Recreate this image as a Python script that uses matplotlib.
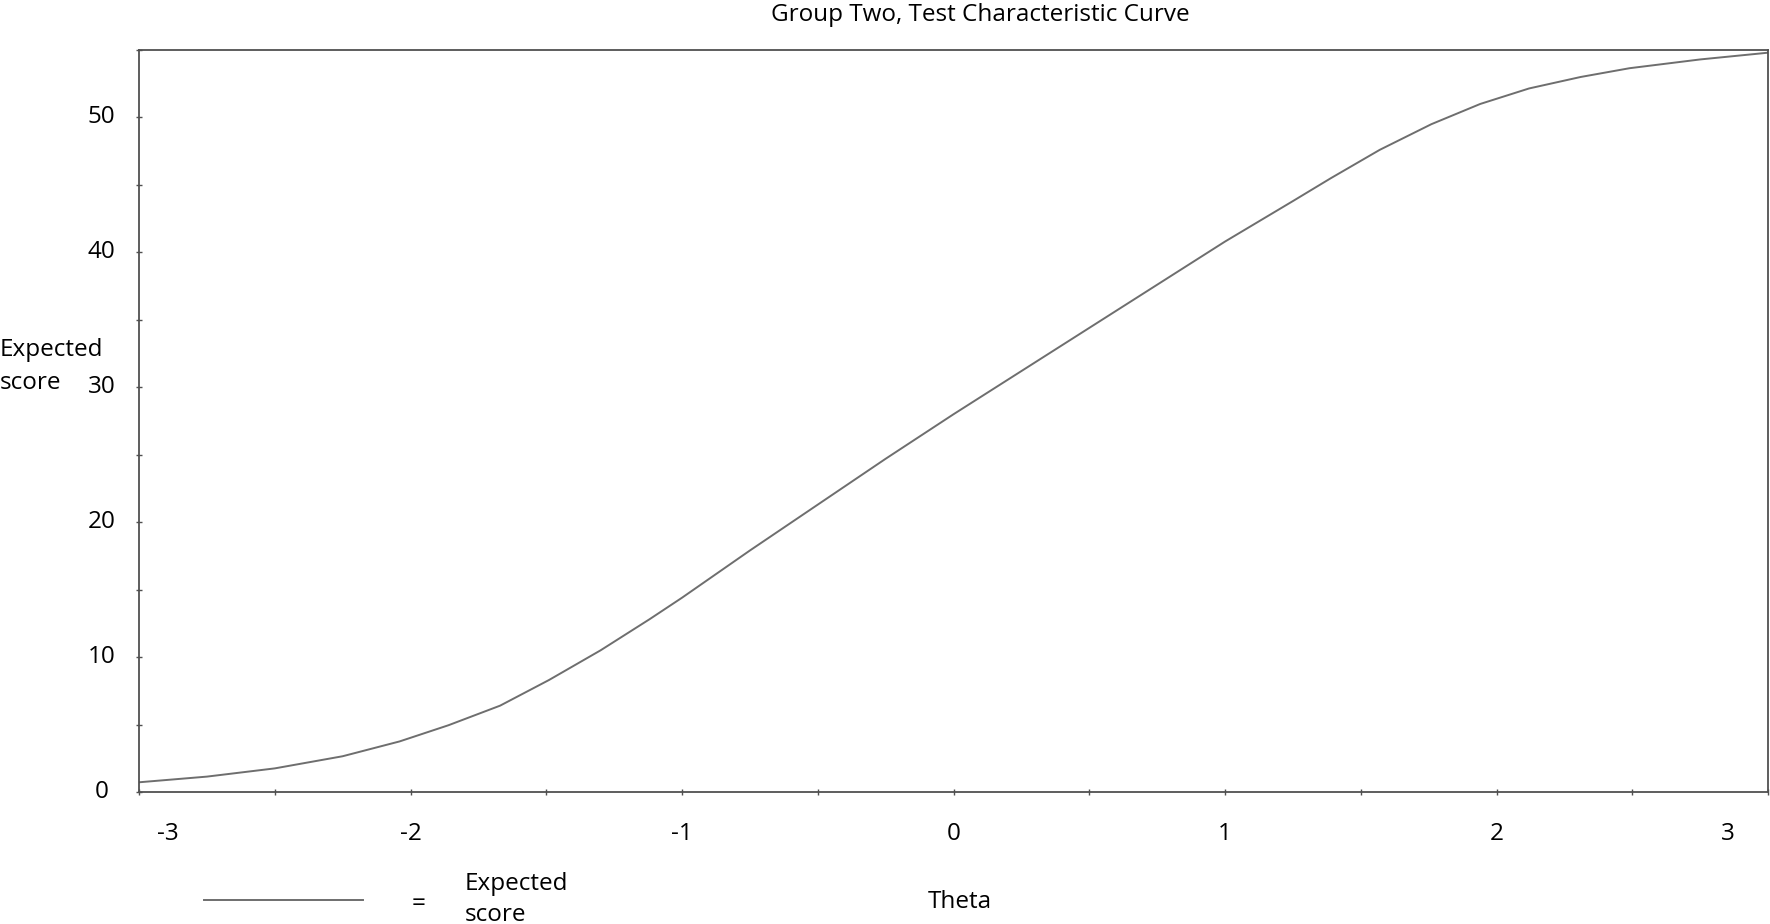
import numpy as np
import matplotlib
matplotlib.use('Agg')
import matplotlib.pyplot as plt
from matplotlib.lines import Line2D
from matplotlib.transforms import ScaledTranslation

# test characteristic curve
theta = [-3.0, -2.75, -2.5, -2.25, -2.04, -1.86, -1.67, -1.49, -1.30, -1.12, -1.0,
         -0.75, -0.5, -0.25, 0.0, 0.25, 0.5, 0.75, 1.0, 1.25, 1.39, 1.57, 1.76,
         1.94, 2.12, 2.31, 2.49, 2.75, 3.0]
expected = [0.72, 1.14, 1.75, 2.65, 3.75, 4.95, 6.4, 8.3, 10.5, 12.8, 14.4,
            17.9, 21.3, 24.7, 28.0, 31.2, 34.4, 37.6, 40.8, 43.8, 45.5, 47.6, 49.5,
            51.0, 52.15, 53.0, 53.65, 54.3, 54.8]

xticks = [-3, -2.5, -2, -1.5, -1, -0.5, 0, 0.5, 1, 1.5, 2, 2.5, 3]
xlabels = ['-3', '', '-2', '', '-1', '', '0', '', '1', '', '2', '', '3']
yticks = [0, 5, 10, 15, 20, 25, 30, 35, 40, 45, 50, 55]
ylabels = ['0', '', '10', '', '20', '', '30', '', '40', '', '50', '']

title = 'Group Two, Test Characteristic Curve'
ylab = ['Expected', 'score']
xlab = 'Theta'
legend_lab = ['Expected', 'score']

plt.rcParams['font.family'] = ['Open Sans', 'DejaVu Sans']
fs = 17.5
axcol = '#505050'
linecol = '#6e6e6e'

W, H = 1770, 924
fig = plt.figure(figsize=(W/100, H/100), dpi=100)
ax = fig.add_axes([139/W, 1-792/H, (1768-139)/W, (792-50)/H])

ax.plot(theta, expected, color=linecol, lw=1.4)
ax.set_xlim(-3, 3)
ax.set_ylim(0, 55)

for s in ax.spines.values():
    s.set_color(axcol)
    s.set_linewidth(1.3)

ax.set_xticks(xticks)
ax.set_xticklabels(xlabels)
ax.set_yticks(yticks)
ax.set_yticklabels(ylabels)
ax.tick_params(axis='both', direction='inout', length=4, width=1, color=axcol,
               labelsize=fs, labelcolor='black')
ax.tick_params(axis='x', pad=19.5)
ax.tick_params(axis='y', pad=25)
for t in ax.get_yticklabels():
    t.set_ha('center')
    t.set_transform(t.get_transform() + ScaledTranslation(0, 3/100, fig.dpi_scale_trans))

# edge labels on x sit inside the axis ends
xt = ax.get_xticklabels()
xt[0].set_transform(xt[0].get_transform() + ScaledTranslation(29/100, 0, fig.dpi_scale_trans))
xt[-1].set_transform(xt[-1].get_transform() + ScaledTranslation(-40/100, 0, fig.dpi_scale_trans))

fig.text(980/W, 1-15/H, title, ha='center', va='center', fontsize=fs)
fig.text(0.0, 1-350/H, ylab[0], ha='left', va='center', fontsize=fs)
fig.text(0.0, 1-383/H, ylab[1], ha='left', va='center', fontsize=fs)
fig.text(960/W, 1-902/H, xlab, ha='center', va='center', fontsize=fs)

# legend row under the axis
fig.add_artist(Line2D([204/W, 363/W], [1-900/H, 1-900/H], color=linecol, lw=1.4))
fig.text(419/W, 1-904/H, '=', ha='center', va='center', fontsize=fs)
fig.text(465/W, 1-884/H, legend_lab[0], ha='left', va='center', fontsize=fs)
fig.text(465/W, 1-915/H, legend_lab[1], ha='left', va='center', fontsize=fs)

fig.savefig('out.png', dpi=100)
